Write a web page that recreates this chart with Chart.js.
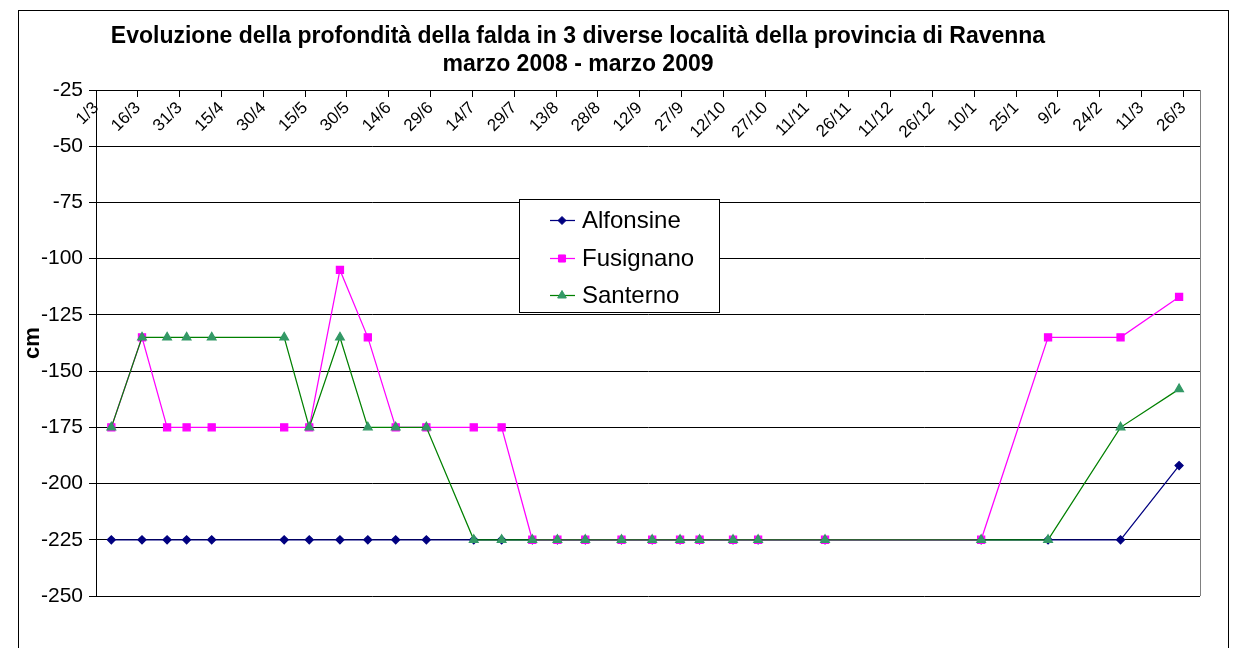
<!DOCTYPE html>
<html>
<head>
<meta charset="utf-8">
<script src="https://cdn.jsdelivr.net/npm/chart.js@4/dist/chart.umd.min.js"></script>
<style>
    body { margin: 0; background: #fff; }
    #wrap { position: relative; width: 1233px; height: 648px; }
</style>
</head>
<body>
<div id="wrap"><canvas id="falda-chart" width="1233" height="648"></canvas></div>
<script>
// Date di misura (giorno/mese), marzo 2008 - marzo 2009
const dateMisure = [
    '2008-03-06', '2008-03-17', '2008-03-26', '2008-04-02', '2008-04-11',
    '2008-05-07', '2008-05-16', '2008-05-27', '2008-06-06', '2008-06-16',
    '2008-06-27', '2008-07-14', '2008-07-24', '2008-08-04', '2008-08-13',
    '2008-08-23', '2008-09-05', '2008-09-16', '2008-09-26', '2008-10-03',
    '2008-10-15', '2008-10-24', '2008-11-17', '2009-01-12', '2009-02-05',
    '2009-03-03', '2009-03-24'
];

const alfonsine = [
    -225, -225, -225, -225, -225, -225, -225, -225, -225, -225,
    -225, -225, -225, -225, -225, -225, -225, -225, -225, -225,
    -225, -225, -225, -225, -225, -225, -192
];

const fusignano = [
    -175, -135, -175, -175, -175, -175, -175, -105, -135, -175,
    -175, -175, -175, -225, -225, -225, -225, -225, -225, -225,
    -225, -225, -225, -225, -135, -135, -117
];

const santerno = [
    -175, -135, -135, -135, -135, -135, -175, -135, -175, -175,
    -175, -225, -225, -225, -225, -225, -225, -225, -225, -225,
    -225, -225, -225, -225, -225, -175, -158
];

// etichette dell'asse orizzontale, una ogni 15 giorni
const etichetteAsse = [
    '1/3', '16/3', '31/3', '15/4', '30/4', '15/5', '30/5', '14/6', '29/6',
    '14/7', '29/7', '13/8', '28/8', '12/9', '27/9', '12/10', '27/10',
    '11/11', '26/11', '11/12', '26/12', '10/1', '25/1', '9/2', '24/2',
    '11/3', '26/3'
];

const titolo = [
    'Evoluzione della profondità della falda in 3 diverse località della provincia di Ravenna',
    'marzo 2008 - marzo 2009'
];

const FONT = "'Liberation Sans', Arial, sans-serif";
const inizio = Date.UTC(2008, 2, 1);

// giorni dal 1/3/2008 (Excel centra il punto sul giorno)
function giorno(d) {
    const p = d.split('-').map(Number);
    return (Date.UTC(p[0], p[1] - 1, p[2]) - inizio) / 86400000 + 0.5;
}

function serie(valori) {
    return valori.map((v, i) => ({ x: giorno(dateMisure[i]), y: v }));
}

// cornice, titolo, bordo destro e legenda
const decorazioni = {
    id: 'decorazioni',
    beforeDraw(chart) {
        const ctx = chart.ctx;
        ctx.save();
        ctx.strokeStyle = '#000';
        ctx.lineWidth = 1;
        ctx.strokeRect(18.5, 10.5, 1210, 700);
        ctx.fillStyle = '#000';
        ctx.font = 'bold 23px ' + FONT;
        ctx.textAlign = 'center';
        ctx.textBaseline = 'middle';
        ctx.fillText(titolo[0], 578, 37);
        ctx.fillText(titolo[1], 578, 65);
        ctx.restore();
    },
    afterDatasetsDraw(chart) {
        const ctx = chart.ctx;
        const a = chart.chartArea;
        ctx.save();
        ctx.strokeStyle = '#808080';
        ctx.lineWidth = 1;
        ctx.beginPath();
        ctx.moveTo(Math.round(a.right) + 0.5, a.top);
        ctx.lineTo(Math.round(a.right) + 0.5, a.bottom);
        ctx.stroke();

        // legenda
        ctx.fillStyle = '#fff';
        ctx.fillRect(519, 199, 201, 114);
        ctx.strokeStyle = '#000';
        ctx.strokeRect(519.5, 199.5, 200, 113);
        const righe = [220, 258, 295];
        chart.data.datasets.forEach((ds, i) => {
            const y = righe[i];
            ctx.strokeStyle = ds.borderColor;
            ctx.lineWidth = 1.25;
            ctx.beginPath();
            ctx.moveTo(550, y + 0.5);
            ctx.lineTo(575, y + 0.5);
            ctx.stroke();
            ctx.fillStyle = ds.pointBackgroundColor;
            ctx.strokeStyle = ds.pointBorderColor;
            ctx.lineWidth = 1;
            Chart.helpers.drawPoint(ctx, {
                pointStyle: ds.pointStyle, rotation: 0,
                radius: ds.pointRadius, borderWidth: 1
            }, 562, y + 0.5);
            ctx.fillStyle = '#000';
            ctx.font = '24px ' + FONT;
            ctx.textAlign = 'left';
            ctx.textBaseline = 'middle';
            ctx.fillText(ds.label, 582, y + 1);
        });
        ctx.restore();
    }
};

const ctx = document.getElementById('falda-chart').getContext('2d');
const faldaChart = new Chart(ctx, {
    type: 'line',
    data: {
        datasets: [{
            label: 'Alfonsine',
            data: serie(alfonsine),
            borderColor: '#000080',
            backgroundColor: '#000080',
            pointBackgroundColor: '#000080',
            pointBorderColor: '#000080',
            pointStyle: 'rectRot',
            pointRadius: 4,
            borderWidth: 1.25,
            order: 3
        }, {
            label: 'Fusignano',
            data: serie(fusignano),
            borderColor: '#FF00FF',
            backgroundColor: '#FF00FF',
            pointBackgroundColor: '#FF00FF',
            pointBorderColor: '#FF00FF',
            pointStyle: 'rect',
            pointRadius: 5,
            borderWidth: 1.25,
            order: 2
        }, {
            label: 'Santerno',
            data: serie(santerno),
            borderColor: '#008000',
            backgroundColor: '#339966',
            pointBackgroundColor: '#339966',
            pointBorderColor: '#339966',
            pointStyle: 'triangle',
            pointRadius: 5,
            borderWidth: 1.25,
            order: 1
        }]
    },
    options: {
        responsive: false,
        animation: false,
        devicePixelRatio: 1,
        layout: { padding: { left: 0, top: 90, right: 33, bottom: 52 } },
        elements: {
            line: { tension: 0, fill: false },
            point: { borderWidth: 1, hoverRadius: 5 }
        },
        plugins: {
            legend: { display: false },
            title: { display: false },
            tooltip: { enabled: false }
        },
        scales: {
            x: {
                type: 'linear',
                min: 0,
                max: 396,
                position: { y: -25 },
                grid: { drawOnChartArea: false, drawTicks: true, tickLength: 6, color: '#000' },
                border: { display: true, color: '#000', width: 1 },
                ticks: {
                    stepSize: 15,
                    includeBounds: false,
                    autoSkip: false,
                    minRotation: 45,
                    maxRotation: 45,
                    padding: 2,
                    color: '#000',
                    font: { family: FONT, size: 17 },
                    callback: v => etichetteAsse[Math.round(v / 15)] || ''
                }
            },
            y: {
                min: -250,
                max: -25,
                afterFit: s => { s.width = 96; },
                grid: { color: '#000', lineWidth: 1, tickLength: 7 },
                border: { display: true, color: '#000', width: 1 },
                ticks: {
                    stepSize: 25,
                    padding: 6,
                    color: '#000',
                    font: { family: FONT, size: 21 }
                },
                title: {
                    display: true,
                    text: 'cm',
                    color: '#000',
                    font: { family: FONT, size: 22, weight: 'bold' },
                    padding: { top: 20, bottom: 0 }
                }
            }
        }
    },
    plugins: [decorazioni]
});
</script>
</body>
</html>
